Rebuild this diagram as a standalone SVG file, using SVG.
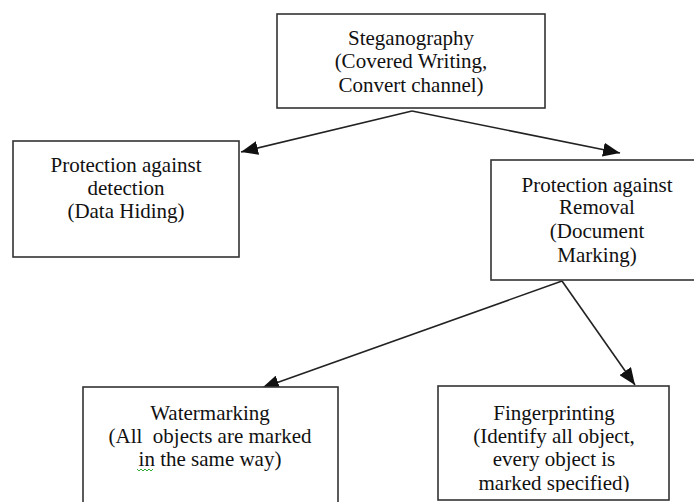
<svg xmlns="http://www.w3.org/2000/svg" width="694" height="502" viewBox="0 0 694 502">
<defs>
<style>
.box{fill:#fff;stroke:#333;stroke-width:1.6}
.t{font-family:"Liberation Serif","Times New Roman",serif;font-size:21px;fill:#111;text-anchor:middle;white-space:pre}
.c{stroke:#222;stroke-width:1.6;fill:none;marker-end:url(#ah)}
</style>
<marker id="ah" markerWidth="17" markerHeight="14" refX="17" refY="7" orient="auto" markerUnits="userSpaceOnUse">
<path d="M0,0 L17,7 L0,14 Z" fill="#111"/>
</marker>
<clipPath id="fpclip"><rect x="438" y="386" width="231" height="106"/></clipPath>
</defs>
<rect width="694" height="502" fill="#fff"/>
<g id="connectors">
<line class="c" x1="412" y1="111" x2="241" y2="152"/>
<line class="c" x1="412" y1="111" x2="620" y2="153"/>
<line class="c" x1="562" y1="281" x2="262" y2="388"/>
<line class="c" x1="562" y1="281" x2="635" y2="385"/>
</g>
<g id="steganography">
<rect class="box" x="277" y="14" width="268" height="94"/>
<text class="t" x="411" y="45">Steganography</text>
<text class="t" x="411" y="68">(Covered Writing,</text>
<text class="t" x="411" y="92">Convert channel)</text>
</g>
<g id="detection">
<rect class="box" x="13" y="141" width="226" height="116"/>
<text class="t" x="126" y="172">Protection against</text>
<text class="t" x="126" y="195">detection</text>
<text class="t" x="126" y="218">(Data Hiding)</text>
</g>
<g id="removal">
<rect class="box" x="491" y="160" width="215" height="120"/>
<text class="t" x="597" y="192">Protection against</text>
<text class="t" x="597" y="214">Removal</text>
<text class="t" x="597" y="238">(Document</text>
<text class="t" x="597" y="262">Marking)</text>
</g>
<g id="watermarking">
<rect class="box" x="83" y="387" width="255" height="130"/>
<text class="t" x="210" y="420">Watermarking</text>
<text class="t" x="210" y="443" xml:space="preserve">(All  objects are marked</text>
<text class="t" x="210" y="466">in the same way)</text>
<path d="M137,469 l2,2 l2,-2 l2,2 l2,-2 l2,2 l2,-2 l2,2 l2,-2" stroke="#3a3" stroke-width="1" fill="none"/>
</g>
<g id="fingerprinting">
<rect class="box" x="438" y="386" width="231" height="114"/>
<g clip-path="url(#fpclip)">
<text class="t" x="554" y="420">Fingerprinting</text>
<text class="t" x="554" y="443">(Identify all object,</text>
<text class="t" x="554" y="466">every object is</text>
<text class="t" x="554" y="490">marked specified)</text>
</g>
</g>
</svg>
